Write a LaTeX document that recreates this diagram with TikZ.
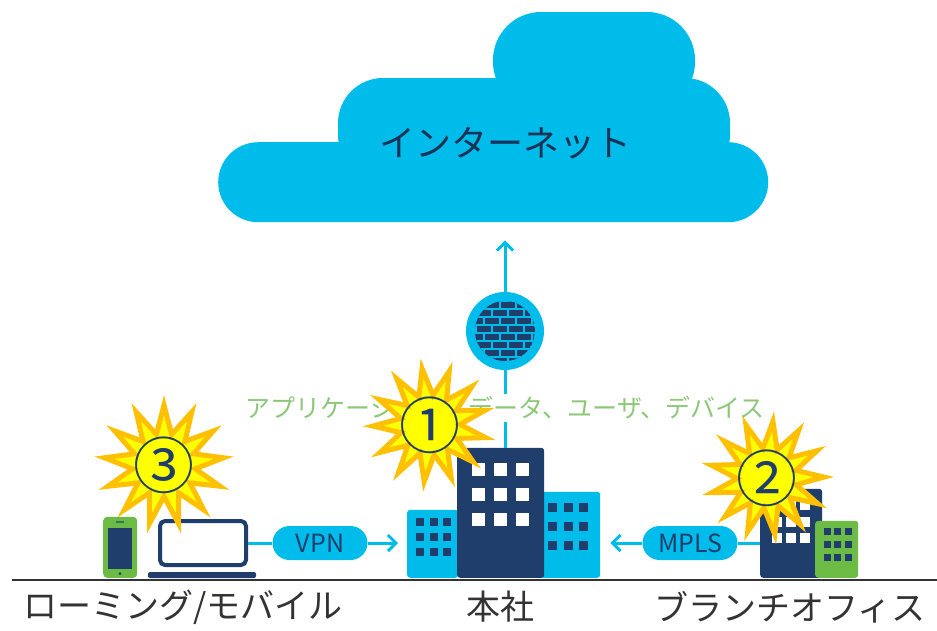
\documentclass[tikz,border=0pt]{standalone}
\usepackage{fontspec}
\setmainfont{Noto Sans CJK JP}
\usetikzlibrary{positioning,arrows.meta,shapes.geometric}

\definecolor{netblue}{RGB}{0,188,235}
\definecolor{navy}{RGB}{31,62,108}
\definecolor{leaf}{RGB}{108,187,69}
\definecolor{burstfill}{RGB}{255,255,0}
\definecolor{burstedge}{RGB}{255,192,0}
\definecolor{flowgreen}{RGB}{140,200,120}
\definecolor{ink}{RGB}{51,51,51}

\begin{document}
\begin{tikzpicture}[x=1pt,y=-1pt,
  link/.style={netblue,line width=3pt},
  arr/.style={link,-{Straight Barb[length=8pt,width=16pt]}},
  cloudpart/.style={fill=netblue,rounded corners=40pt,inner sep=0pt},
  pill/.style={fill=netblue,rounded corners=17pt,minimum width=95,minimum height=34,
    inner sep=0pt,text=navy,font=\fontsize{25}{25}\selectfont},
  bldg/.style={fill=#1,rounded corners=3pt,anchor=south west,inner sep=0pt},
  burst/.style={star,star points=13,star point ratio=1.9,minimum size=114,
    fill=burstfill,draw=burstedge,line width=5pt,inner sep=0pt},
  numtag/.style={text=navy,font=\fontsize{61}{61}\selectfont,inner sep=0pt},
  place/.style={text=ink,font=\fontsize{34}{34}\selectfont}]
\useasboundingbox (0,0) rectangle (937,630);

% cloud
\fill[netblue,rounded corners=48pt] (493,12) rectangle (695,110);
\fill[netblue,rounded corners=45pt] (338,78) rectangle (730,180);
\node[cloudpart,minimum width=550,minimum height=80,anchor=north west] (cloud) at (218,142) {};
\node[text=navy!80!black,font=\fontsize{36}{36}\selectfont] (inet) at (505,143) {インターネット};

% firewall
\node[circle,fill=netblue,minimum size=78,inner sep=0pt] (fw) at (505,331) {};
\begin{scope}
  \clip (fw.center) circle[radius=30pt];
  \fill[navy] (fw.center) circle[radius=30pt];
  \foreach \r in {0,...,7} {
    \draw[netblue,line width=1.5pt] (470,{301+8*\r}) -- (540,{301+8*\r});
    \foreach \c in {0,...,4}
      \draw[netblue,line width=1.5pt] ({468+16*\c+8*mod(\r,2)},{301+8*\r}) -- ++(0,8);
  }
\end{scope}

% ground
\draw[ink,line width=2.5pt] (12,580) -- (937,580);

% head office
\node[bldg=netblue,minimum width=51,minimum height=68] (hqleft) at (407,578) {};
\node[bldg=netblue,minimum width=64,minimum height=86] (hqright) at (536,578) {};
\node[bldg=navy,minimum width=87,minimum height=130] (hqmain) at (457,578) {};
\foreach \i in {0,1,2} \foreach \j in {0,1,2} {
  \fill[navy] ({416+13.5*\i},{518+15*\j}) rectangle ++(8,8);
  \fill[white] ({472+22*\i},{463+25*\j}) rectangle ++(13,13);
  \fill[navy] ({548+15.5*\i},{503+19*\j}) rectangle ++(9,9);
}

% branch office
\node[bldg=navy,minimum width=62,minimum height=89] (branch) at (760,578) {};
\node[bldg=leaf,minimum width=43,minimum height=57] (branch2) at (815,578) {};
\foreach \i in {0,1,2} \foreach \j in {0,1,2} {
  \fill[white] ({772+14*\i},{500+16.5*\j}) rectangle ++(10,10);
  \fill[navy] ({823.5+10.5*\i},{527.5+13*\j}) rectangle ++(7,7);
}

% roaming devices
\node[bldg=leaf,minimum width=34,minimum height=61,rounded corners=4pt] (phone) at (103,578) {};
\fill[navy] (108,528) rectangle (132,569);
\fill[navy] (120,573.5) circle[radius=1.5pt];
\draw[navy!60!leaf,line width=1.2pt] (116,522) -- (124,522);
\node[draw=navy,line width=4pt,fill=white,rounded corners=5pt,minimum width=86,
  minimum height=44,inner sep=0pt] (laptop) at (203,543) {};
\fill[navy,rounded corners=2pt] (148,572) rectangle (256,578);

% links
\node[pill] (vpn) at (320,543) {VPN};
\node[pill] (mpls) at (690,543) {MPLS};
\draw[link] (laptop.east) -- (vpn.west);
\draw[arr,shorten >=9pt] (vpn.east) -- (vpn.east -| hqleft.west);
\draw[link] (mpls.east) -- (mpls.east -| branch.west);
\draw[arr,shorten >=10pt] (mpls.west) -- (mpls.west -| hqright.east);
\draw[arr,shorten >=18pt] (fw.north) -- (fw |- cloud.south);
\draw[link] (fw.south) -- (fw |- hqmain.north);
\node[fill=white,inner sep=3pt,text=flowgreen,font=\fontsize{25}{25}\selectfont]
  (flow) at (505,408) {アプリケーション、データ、ユーザ、デバイス};

% labels
\node[place] (roam) at (183,607) {ローミング/モバイル};
\node[place] (hq) at (500,607) {本社};
\node[place] (br) at (790,607) {ブランチオフィス};

% markers
\node[burst,shape border rotate=8] (n1) at (430,425) {};
\node[burst,shape border rotate=-6] (n2) at (767,478) {};
\node[burst,minimum size=120] (n3) at (164,465) {};
\node[numtag] at (n1) {①};
\node[numtag] at (n2) {②};
\node[numtag] at (n3) {③};
\end{tikzpicture}
\end{document}
